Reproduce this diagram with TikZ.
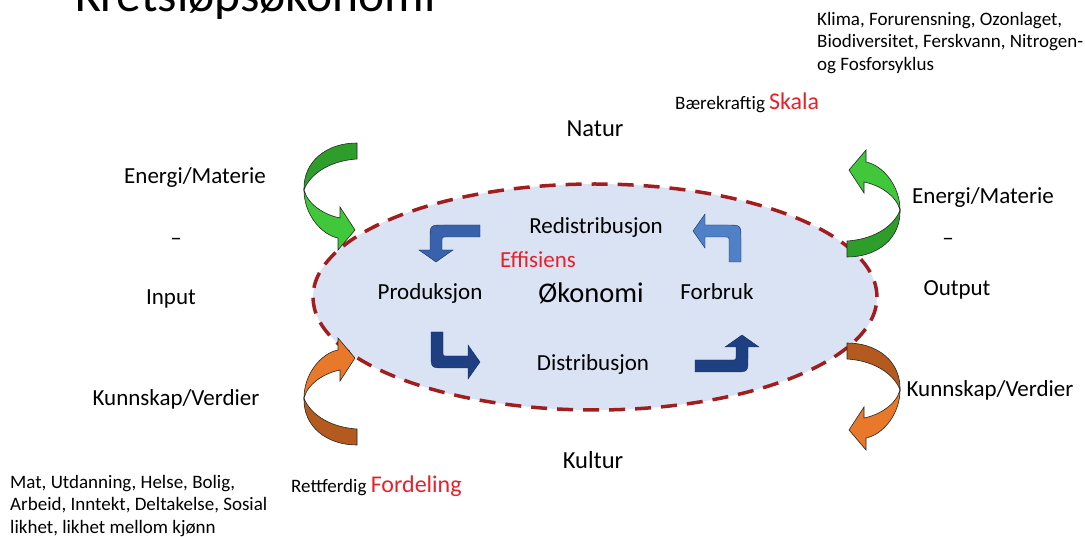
\documentclass[tikz,border=0pt]{standalone}
\usepackage{fontspec}
\setmainfont{Carlito}
\usepackage{tikz}
\usetikzlibrary{shapes.geometric}
\definecolor{okofill}{HTML}{DAE3F3}
\definecolor{okoline}{HTML}{A01E1E}
\definecolor{txtred}{HTML}{E8202A}
\definecolor{grnlight}{HTML}{40C83A}
\definecolor{grndark}{HTML}{2E9E2A}
\definecolor{orglight}{HTML}{E8782A}
\definecolor{orgdark}{HTML}{B45A1E}
\definecolor{bluemid}{HTML}{3A62AC}
\definecolor{bluelight}{HTML}{5080C8}
\definecolor{bluedark}{HTML}{1E3F82}
\tikzset{lbl/.style={inner sep=0pt,anchor=base,
                     font=\fontsize{23}{26}\selectfont}}
\tikzset{smalltxt/.style={inner sep=0pt,align=left,
                     font=\fontsize{19}{22.5}\selectfont}}
\tikzset{redword/.style={text=txtred,font=\fontsize{23}{26}\selectfont}}
\tikzset{swooshline/.style={draw=black!85,line width=0.6pt}}
\tikzset{bentline/.style={draw=bluedark!70!black,line width=0.4pt}}
% big curved arrow: tail at upper right, head pointing right below
\newcommand{\swoosh}[2]{%
  \filldraw[swooshline,fill=#1] (27,-47) .. controls (-4,-47) and (-27,-28) ..
      (-26,0) .. controls (-22,-12) and (-5,-29) .. (27,-31) -- cycle;
  \filldraw[swooshline,fill=#2] (-26,0) .. controls (-26,25) and (-8,45) ..
      (8,48) -- (8,60) -- (25,40) -- (10,17) -- (10,28)
      .. controls (-5,25) and (-22,15) .. (-26,0) -- cycle;}
% small bent arrow: tail to the right, head pointing down
\newcommand{\bentarrow}[3]{%
  \filldraw[bentline,fill=#1] (#2,-6) -- (8,-6) .. controls (-6,-6) .. (-6,8)
      -- (-6,#3-12) -- (-17,#3-12) -- (0,#3) -- (17,#3-12) -- (6,#3-12)
      -- (6,10) .. controls (6,6) .. (10,6) -- (#2,6) -- cycle;}

\begin{document}
\begin{tikzpicture}[x=1pt,y=-1pt]
    \useasboundingbox (0,0) rectangle (1085,537);
    \node[inner sep=0pt,anchor=base west,font=\fontsize{49.5}{52}\selectfont]
        (tittel) at (75,12) {Kretsløpsøkonomi};
    % the economy inside nature and culture
    \node[ellipse,minimum width=564pt,minimum height=226pt,inner sep=0pt,
          fill=okofill,draw=okoline,line width=3.5pt,
          dash pattern=on 16pt off 10pt] (oko) at (595,297) {};
    \foreach \pos/\rot/\col/\tl/\hl in {{436,231}/0/bluemid/44/31,
            {735,231}/-90/bluelight/31/42,{437,362}/90/bluedark/30/43,
            {742,366}/180/bluedark/47/31}{%
          \begin{scope}[shift={(\pos)},rotate=\rot]
            \bentarrow{\col}{\tl}{\hl}
          \end{scope}
        }
    \begin{scope}[shift={(330,190)}]
      \swoosh{grndark}{grnlight}
    \end{scope}
    \begin{scope}[shift={(330,398)},yscale=-1]
      \swoosh{orgdark}{orglight}
    \end{scope}
    \begin{scope}[shift={(874,210)},rotate=180]
      \swoosh{grndark}{grnlight}
    \end{scope}
    \begin{scope}[shift={(874,390)},xscale=-1]
      \swoosh{orgdark}{orglight}
    \end{scope}
    % inside
    \node[lbl,font=\fontsize{28.5}{30}\selectfont] (okonomi) at (591,303) {Økonomi};
    \node[lbl] (redis) at (596,234) {Redistribusjon};
    \node[lbl,redword] (effis) at (538,268) {Effisiens};
    \node[lbl] (prod) at (430,300) {Produksjon};
    \node[lbl] (forbruk) at (717,300) {Forbruk};
    \node[lbl] (distr) at (593,371) {Distribusjon};
    \node[lbl,font=\fontsize{24.5}{27}\selectfont] (natur) at (595,137) {Natur};
    \node[lbl,font=\fontsize{24.5}{27}\selectfont] (kultur) at (593,468) {Kultur};
    % input side
    \node[lbl] (energiIn) at (195,184) {Energi/Materie};
    \node[lbl] (strekIn) at (176,246) {--};
    \node[lbl] (input) at (171,305) {Input};
    \node[lbl] (kunnskapIn) at (176,406) {Kunnskap/Verdier};
    % output side
    \node[lbl] (energiOut) at (983,204) {Energi/Materie};
    \node[lbl] (strekOut) at (948,246) {--};
    \node[lbl] (output) at (957,296) {Output};
    \node[lbl] (kunnskapOut) at (990,396) {Kunnskap/Verdier};
    % notes
    \node[smalltxt,anchor=base west] (skala) at (675,110)
        {Bærekraftig {\color{txtred}\fontsize{24}{26}\selectfont Skala}};
    \node[smalltxt,anchor=base west] (fordeling) at (291,492)
        {Rettferdig {\color{txtred}\fontsize{24}{26}\selectfont Fordeling}};
    \node[smalltxt,anchor=north west] (miljo) at (817,12)
        {Klima, Forurensning, Ozonlaget,\\Biodiversitet, Ferskvann, Nitrogen-\\og Fosforsyklus};
    \node[smalltxt,anchor=north west] (sosial) at (10,475)
        {Mat, Utdanning, Helse, Bolig,\\Arbeid, Inntekt, Deltakelse, Sosial\\likhet, likhet mellom kjønn};
\end{tikzpicture}
\end{document}
